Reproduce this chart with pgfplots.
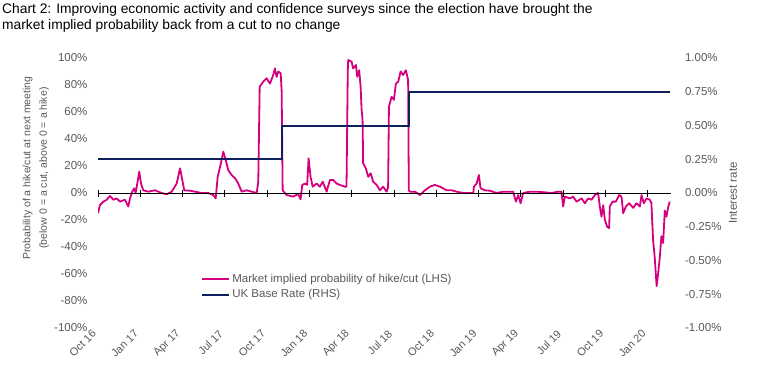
\documentclass[border=0pt]{standalone}
\usepackage{fontspec}
\setmainfont{Liberation Sans}
\usepackage{pgfplots}
\usepackage{pgfplotstable}
\pgfplotsset{compat=1.18}
\definecolor{mag}{HTML}{D6007E}
\definecolor{navy}{HTML}{0E1F5B}
\definecolor{lbl}{HTML}{595959}

\pgfplotstableread{
m v
0.00 -15
0.14 -8.9
0.38 -6.4
0.62 -5
0.85 -2.2
1.09 -5
1.32 -4
1.56 -6.4
1.91 -5
2.15 -10
2.27 -4
2.43 1
2.57 3.5
2.67 0
2.81 8.4
2.93 15.8
3.05 7
3.21 2
3.57 1
4.04 2
4.52 0
4.87 -1
5.23 1
5.58 7
5.82 18.3
5.98 9.6
6.12 2
6.52 1.7
6.88 1
7.35 0
7.82 0
8.18 -1.5
8.35 -4
8.49 12
8.72 22
8.89 30.6
9.06 24.4
9.24 17
9.48 13.3
9.72 11
9.95 7
10.19 1
10.54 2
10.90 1
11.26 0
11.37 8.4
11.47 78.7
11.72 82.5
11.96 85
12.20 81
12.43 87.4
12.55 92.3
12.67 86
12.79 90
12.96 88.7
13.03 75
13.10 2
13.38 -1.5
13.85 -2.7
14.20 -0.7
14.37 -4.7
14.49 6
14.68 7
14.84 6
14.94 25.7
15.08 12
15.23 4.7
15.51 7
15.74 4.7
15.94 8.4
16.22 1
16.45 9.6
16.69 9.6
16.93 7
17.16 6
17.52 4.7
17.63 4.7
17.72 91
17.75 98.5
17.99 97.3
18.10 92.3
18.30 94.8
18.39 86
18.53 91
18.63 78.7
18.70 62
18.77 54
18.81 22
19.00 18.3
19.17 12
19.34 14.6
19.52 8.4
19.77 6
20.00 2
20.23 4.7
20.47 1
20.58 4
20.64 64
20.83 71.3
20.99 69
21.13 81
21.30 82.5
21.47 90
21.65 87.4
21.84 91
22.00 83.7
22.05 2
22.13 1
22.48 1
22.84 -1.5
23.19 2
23.55 4.7
23.90 6
24.26 4.7
24.73 2
25.09 2
25.44 1
25.91 0
26.38 0
26.62 0
26.67 4.7
26.86 7
27.02 13.3
27.14 3.5
27.45 2
27.80 1.7
28.28 0
28.75 1
29.45 1
29.65 -6.4
29.81 -1.5
29.98 -7.6
30.16 0
30.64 1
31.11 1
31.58 0.6
32.18 0
32.65 1
32.88 1
33.00 -10
33.12 -2.7
33.48 -4
33.71 -2.7
33.95 -6.4
34.31 -4
34.54 -7.6
34.77 -4
35.01 -5
35.25 -1.5
35.48 0
35.60 -10
35.72 -17.5
35.84 -9
35.96 -20
36.12 -25
36.26 -26
36.31 -10
36.50 -6.4
36.74 -6.4
36.97 -1.5
37.14 -2.7
37.26 -15
37.45 -10
37.68 -7.6
37.97 -11
38.20 -7.6
38.44 -10
38.56 -1.5
38.72 -7.6
38.92 -4
39.15 -5
39.26 -7.6
39.38 -35
39.49 -47
39.63 -69
39.74 -59.5
39.86 -47
39.97 -32
40.09 -37
40.21 -13
40.33 -17.5
40.44 -11
40.56 -6.4
}\probtable

\pgfplotstableread{
m r
0.00 0.25
13.03 0.25
13.03 0.50
22.03 0.50
22.03 0.75
40.60 0.75
}\ratetable

\begin{document}
\begin{tikzpicture}[x=1pt,y=1pt]
\useasboundingbox (0pt,0pt) rectangle (757pt,-380pt);
\node[anchor=north west, align=left, inner sep=0, font=\fontsize{13.8}{16}\selectfont] at (2pt,-3pt) {Chart 2: Improving economic activity and confidence surveys since the election have brought the\\market implied probability back from a cut to no change};

\node[rotate=90, align=center, text=lbl, font=\fontsize{10.5}{16.5}\selectfont] at (36pt,-168pt) {Probability of a hike/cut at next meeting\\(below 0 = a cut, above 0 = a hike)};
\node[rotate=90, text=lbl, font=\fontsize{11.5}{13}\selectfont] at (733pt,-193pt) {Interest rate};

\begin{axis}[
  at={(98pt,-328pt)}, anchor=south west,
  width=573pt, height=270pt, scale only axis,
  xmin=0, xmax=40.65, ymin=-100, ymax=100,
  axis x line*=bottom, axis y line*=left,
  axis line style={draw=none},
  major tick length=0pt,
  xtick={0,3,...,39},
  xticklabels={Oct 16,Jan 17,Apr 17,Jul 17,Oct 17,Jan 18,Apr 18,Jul 18,Oct 18,Jan 19,Apr 19,Jul 19,Oct 19,Jan 20},
  x tick label style={rotate=45, anchor=east, text=lbl, font=\fontsize{11}{13}\selectfont, xshift=-2pt},
  ytick={-100,-80,...,100},
  yticklabel={\pgfmathprintnumber{\tick}\%},
  y tick label style={text=lbl, font=\fontsize{11.5}{13}\selectfont, xshift=-7pt},
  /pgf/number format/assume math mode=true,
  legend style={at={(axis description cs:0.18,0.207)}, anchor=north west, draw=none, fill=none,
    font=\fontsize{11.5}{13}\selectfont, text=lbl, row sep=1.5pt, inner sep=0pt,
    /tikz/every even column/.append style={column sep=0pt}},
  legend cell align=left,
  legend image code/.code={\draw[#1] (0pt,0pt) -- (27pt,0pt);},
]
\addplot[mag, line width=1.8pt, line join=round] table[x=m,y=v] {\probtable};
\addlegendentry{Market implied probability of hike/cut (LHS)}
\addlegendimage{navy, line width=2pt}
\addlegendentry{UK Base Rate (RHS)}
\end{axis}

\begin{axis}[
  at={(98pt,-328pt)}, anchor=south west,
  width=573pt, height=270pt, scale only axis,
  xmin=0, xmax=40.65, ymin=-1, ymax=1,
  axis x line=middle, axis y line*=right,
  x axis line style={-, black, line width=0.9pt},
  y axis line style={draw=none},
  xtick={0,3,...,39}, xticklabels={},
  x tick style={black, line width=0.9pt},
  major tick length=7pt,
  tick align=center,
  ytick={-1,-0.75,...,1},
  y tick style={draw=none},
  yticklabel={\pgfmathprintnumber[fixed,fixed zerofill,precision=2]{\tick}\%},
  y tick label style={text=lbl, font=\fontsize{11.5}{13}\selectfont, xshift=7pt},
  /pgf/number format/assume math mode=true,
]
\addplot[navy, line width=2pt] table[x=m,y=r] {\ratetable};
\end{axis}
\end{tikzpicture}
\end{document}
